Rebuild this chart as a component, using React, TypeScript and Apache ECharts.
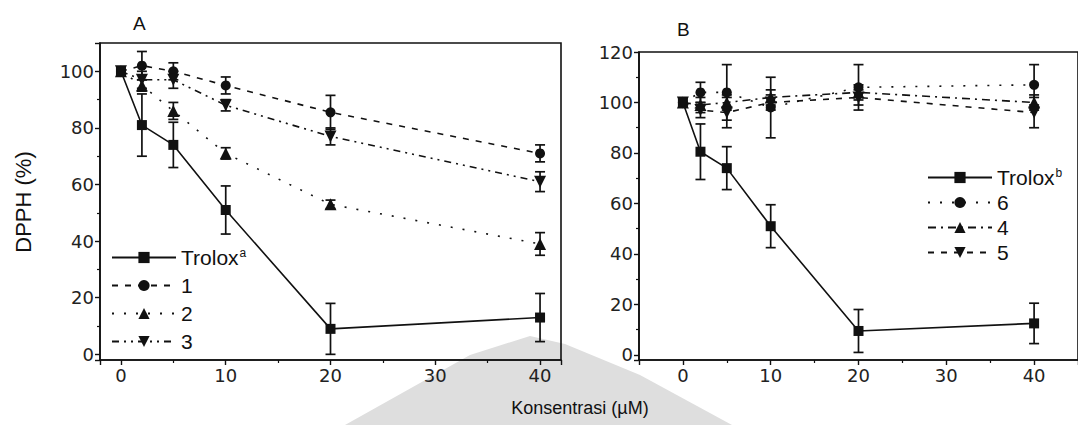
import React, { useEffect, useRef } from 'react';
import * as echarts from 'echarts';

// concentrations (µM)
const conc = [0, 2, 5, 10, 20, 40];

// Panel A — DPPH (%)
const troloxA = [100, 81, 74, 51, 9, 13];
const troloxAErr = [0, 11, 8, 8.5, 9, 8.5];
const comp1 = [100, 102, 100, 95, 85.5, 71];
const comp1Err = [0, 5, 3, 3, 6, 3];
const comp2 = [100, 95, 86, 71, 53, 39];
const comp2Err = [0, 2, 3, 2, 1.5, 4];
const comp3 = [100, 97, 97, 88, 77, 61];
const comp3Err = [0, 3, 3, 2, 3, 3.5];

// Panel B — DPPH (%)
const troloxB = [100, 80.5, 74, 51, 9.5, 12.5];
const troloxBErr = [0, 11, 8.5, 8.5, 8.5, 8];
const comp6 = [100, 104, 104, 98, 106, 107];
const comp6Err = [0, 4, 11, 12, 9, 8];
const comp4 = [100, 99, 100, 102, 104, 100];
const comp4Err = [0, 3, 3, 3, 3, 3];
const comp5 = [100, 97, 96, 100, 102, 96];
const comp5Err = [0, 3, 6, 3, 3, 6];

const BLACK = '#111';
const FONT = 'DejaVu Sans';

function line(name: string, vals: number[], g: number, symbol: string, rotate: number, dash: any) {
  return {
    type: 'line',
    name,
    xAxisIndex: g,
    yAxisIndex: g,
    data: conc.map((c, i) => [c, vals[i]]),
    symbol,
    symbolRotate: rotate,
    symbolSize: symbol === 'triangle' ? 12 : 10,
    showSymbol: true,
    lineStyle: { color: BLACK, width: 1.6, type: dash },
    itemStyle: { color: BLACK, borderWidth: 0 },
    z: 4,
  };
}

function errBars(vals: number[], errs: number[], g: number) {
  return {
    type: 'custom',
    xAxisIndex: g,
    yAxisIndex: g,
    silent: true,
    z: 3,
    data: conc
      .map((c, i) => [c, vals[i] - errs[i], vals[i] + errs[i], errs[i]])
      .filter((d) => d[3] > 0),
    encode: { x: 0, y: [1, 2] },
    renderItem: (_p: any, api: any) => {
      const lo = api.coord([api.value(0), api.value(1)]);
      const hi = api.coord([api.value(0), api.value(2)]);
      const w = 5;
      const st = { stroke: BLACK, lineWidth: 1.7 };
      return {
        type: 'group',
        children: [
          { type: 'line', shape: { x1: lo[0], y1: lo[1], x2: hi[0], y2: hi[1] }, style: st },
          { type: 'line', shape: { x1: hi[0] - w, y1: hi[1], x2: hi[0] + w, y2: hi[1] }, style: st },
          { type: 'line', shape: { x1: lo[0] - w, y1: lo[1], x2: lo[0] + w, y2: lo[1] }, style: st },
        ],
      };
    },
  };
}

function axis(showMax: boolean) {
  return {
    axisLine: { show: true, onZero: false, lineStyle: { color: BLACK, width: 1.6 } },
    axisTick: { show: true, length: 5, lineStyle: { color: BLACK, width: 1.4 } },
    minorTick: { show: true, splitNumber: 2, length: 3, lineStyle: { color: BLACK, width: 1.2 } },
    splitLine: { show: false },
    axisLabel: {
      color: '#222',
      fontFamily: FONT,
      fontSize: 18,
      margin: 6,
      showMinLabel: false,
      showMaxLabel: showMax,
    },
  };
}

const dashed = [6, 7];
const dotted = [2, 10];
const dashDotDot = [7, 5, 2, 5, 2, 5];
const dashDot = [8, 5, 2, 5];

export default function App() {
  const ref = useRef<HTMLDivElement>(null);
  useEffect(() => {
    document.body.style.margin = '0';
    const chart = echarts.init(ref.current!, null, { renderer: 'svg' });
    const legendFmt = (name: string) => {
      if (name.startsWith('Trolox')) return `{b|Trolox}{s|${name.endsWith('A') ? 'a' : 'b'}}`;
      return `{b|${name.slice(1)}}`;
    };
    const legendText = {
      color: BLACK,
      rich: {
        b: { fontFamily: 'Liberation Sans', fontSize: 21, color: BLACK },
        s: { fontFamily: 'Liberation Sans', fontSize: 12, color: BLACK, verticalAlign: 'top', padding: [0, 0, 6, 1] },
      },
    };
    chart.setOption({
      animation: false,
      backgroundColor: '#fff',
      grid: [
        { left: 100, top: 43, width: 461, height: 317, show: true, borderColor: BLACK, borderWidth: 1.6, backgroundColor: 'transparent' },
        { left: 639, top: 52, width: 446, height: 308, show: true, borderColor: BLACK, borderWidth: 1.6, backgroundColor: 'transparent' },
      ],
      xAxis: [
        { type: 'value', gridIndex: 0, min: -2, max: 42, splitNumber: 4, ...axis(false) },
        { type: 'value', gridIndex: 1, min: -5, max: 45, splitNumber: 5, ...axis(false) },
      ],
      yAxis: [
        { type: 'value', gridIndex: 0, min: -2, max: 110, splitNumber: 5, ...axis(false) },
        { type: 'value', gridIndex: 1, min: -2, max: 120, splitNumber: 6, ...axis(true) },
      ],
      legend: [
        {
          data: ['TroloxA', 'A1', 'A2', 'A3'],
          orient: 'vertical',
          left: 106,
          top: 242,
          itemWidth: 64,
          itemHeight: 14,
          itemGap: 7,
          formatter: legendFmt,
          textStyle: legendText,
          selectedMode: false,
        },
        {
          data: ['TroloxB', 'B6', 'B4', 'B5'],
          orient: 'vertical',
          left: 922,
          top: 162,
          itemWidth: 64,
          itemHeight: 14,
          itemGap: 4,
          formatter: legendFmt,
          textStyle: legendText,
          selectedMode: false,
        },
      ],
      graphic: [
        {
          type: 'polygon',
          z: -10,
          shape: { points: [[345, 425], [470, 355], [530, 336], [565, 344], [640, 375], [732, 425]] },
          style: { fill: '#dedede' },
        },
        { type: 'text', left: 133, top: 14, style: { text: 'A', fontFamily: 'Liberation Sans', fontSize: 19, fill: BLACK } },
        { type: 'text', left: 677, top: 20, style: { text: 'B', fontFamily: 'Liberation Sans', fontSize: 19, fill: BLACK } },
        {
          type: 'text',
          x: 23,
          y: 202,
          rotation: Math.PI / 2,
          style: { text: 'DPPH (%)', fontFamily: 'Liberation Sans', fontSize: 22, fill: BLACK, align: 'center', verticalAlign: 'middle' },
        },
        {
          type: 'text',
          x: 580,
          y: 408,
          style: { text: 'Konsentrasi (µM)', fontFamily: 'Liberation Sans', fontSize: 18, fill: BLACK, align: 'center', verticalAlign: 'middle' },
        },
      ],
      series: [
        line('TroloxA', troloxA, 0, 'rect', 0, 'solid'),
        line('A1', comp1, 0, 'circle', 0, dashed),
        line('A2', comp2, 0, 'triangle', 0, dotted),
        line('A3', comp3, 0, 'triangle', 180, dashDotDot),
        errBars(troloxA, troloxAErr, 0),
        errBars(comp1, comp1Err, 0),
        errBars(comp2, comp2Err, 0),
        errBars(comp3, comp3Err, 0),
        line('TroloxB', troloxB, 1, 'rect', 0, 'solid'),
        line('B6', comp6, 1, 'circle', 0, dotted),
        line('B4', comp4, 1, 'triangle', 0, dashDot),
        line('B5', comp5, 1, 'triangle', 180, dashed),
        errBars(troloxB, troloxBErr, 1),
        errBars(comp6, comp6Err, 1),
        errBars(comp4, comp4Err, 1),
        errBars(comp5, comp5Err, 1),
      ],
    });
    return () => chart.dispose();
  }, []);
  return <div ref={ref} style={{ position: 'absolute', left: 0, top: 0, width: 1078, height: 425 }} />;
}
